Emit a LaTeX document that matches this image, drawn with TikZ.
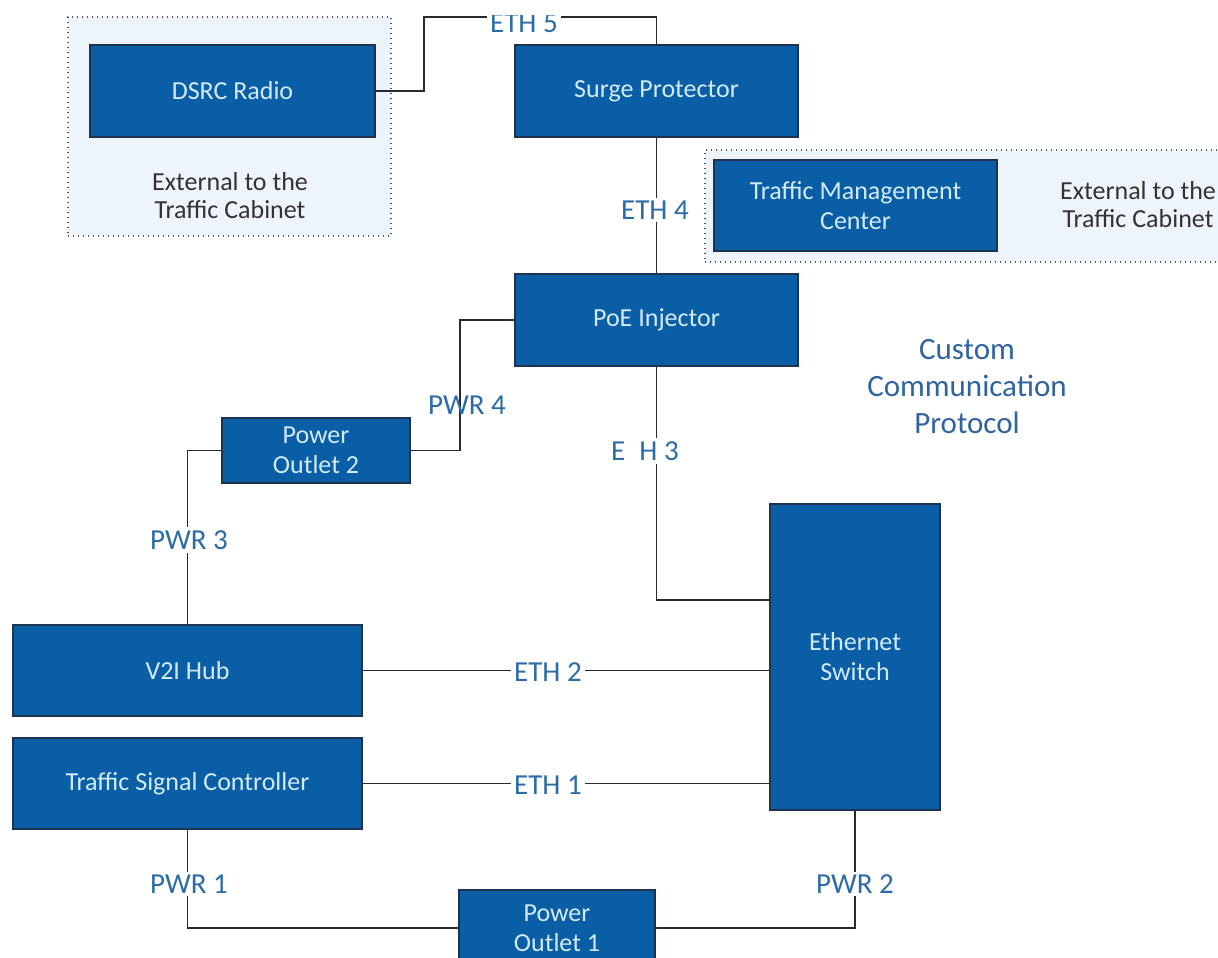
\documentclass[tikz,border=0pt]{standalone}
\usepackage{fontspec}
\setmainfont{Carlito}
\definecolor{boxfill}{HTML}{0A5EA6}
\definecolor{boxline}{HTML}{1F3350}
\definecolor{boxtext}{HTML}{D2EBFB}
\definecolor{lblcol}{HTML}{2C6CA6}
\definecolor{notecol}{HTML}{2F64A0}
\definecolor{exttext}{HTML}{333333}
\definecolor{extfill}{HTML}{EEF4FB}
\definecolor{dotgray}{HTML}{555555}
\definecolor{wirecol}{HTML}{2A2A2A}
\tikzset{
  blk/.style={draw=boxline, line width=0.8pt, fill=boxfill, text=boxtext,
    font=\fontsize{13}{15}\selectfont, align=center, inner sep=0pt},
  ext/.style={draw=dotgray, dash pattern=on 0.7pt off 1.8pt, fill=extfill, line width=0.7pt, inner sep=0pt},
  exttxt/.style={text=exttext, font=\fontsize{13}{14}\selectfont, align=center},
  wire/.style={draw=wirecol, line width=0.7pt},
  lbl/.style={text=lblcol, font=\fontsize{14.5}{17}\selectfont, inner sep=1.5pt},
  lblw/.style={lbl, fill=white},
  notetxt/.style={text=notecol, font=\fontsize{15.5}{18.5}\selectfont, align=center}
}
\begin{document}
\begin{tikzpicture}[x=0.5pt,y=-0.5pt]
\useasboundingbox (0,0) rectangle (1218,957);
\clip (0,0) rectangle (1218,957);
\fill[white] (0,0) rectangle (1218,957);

% external regions
\node[ext, minimum width=161.5pt, minimum height=109.5pt] (ext1) at (229.5,126.5) {};
\node[ext, minimum width=262.5pt, minimum height=56pt] (ext2) at (967.5,206) {};
\node[exttxt] (ext1txt) at (230,196) {External to the\\Traffic Cabinet};
\node[exttxt] (ext2txt) at (1138,205) {External to the\\Traffic Cabinet};

% blocks
\node[blk, minimum width=142.5pt, minimum height=46pt] (dsrc) at (232.5,91) {DSRC Radio};
\node[blk, minimum width=141.5pt, minimum height=46pt] (surge) at (656.5,91) {Surge Protector};
\node[blk, minimum width=141.5pt, minimum height=45.5pt] (tmc) at (855.5,205.5) {Traffic Management\\Center};
\node[blk, minimum width=141.5pt, minimum height=46pt] (poe) at (656.5,320) {PoE Injector};
\node[blk, minimum width=94pt, minimum height=32.5pt] (out2) at (316,450.5) {Power\\Outlet 2};
\node[blk, minimum width=174.5pt, minimum height=45.5pt] (v2i) at (187.5,670.5) {V2I Hub};
\node[blk, minimum width=174.5pt, minimum height=45.5pt] (tsc) at (187.5,783.5) {Traffic Signal Controller};
\node[blk, minimum width=85pt, minimum height=153pt] (sw) at (855,657) {Ethernet\\Switch};
\node[blk, minimum width=98pt, minimum height=38pt] (out1) at (557,928) {Power\\Outlet 1};

% bend points
\coordinate (e5bend) at (424,17);
\coordinate (p4bend) at (460,320);

% connectors
\draw[wire] (dsrc.east) -| (e5bend) -| (surge.north);
\draw[wire] (surge.south) -- (poe.north);
\draw[wire] (out2.east) -| (p4bend) -- (poe.west);
\draw[wire] (out2.west) -| (v2i.north);
\draw[wire] (poe.south) |- ([yshift=28.5pt]sw.west);
\draw[wire] (v2i.east) -- (v2i.east -| sw.west);
\draw[wire] (tsc.east) -- (tsc.east -| sw.west);
\draw[wire] (tsc.south) |- (out1.west);
\draw[wire] (sw.south) |- (out1.east);

% labels
\begin{scope}
\clip (470,15.5) rectangle (580,45);
\node[lblw] (l5) at (524,23.5) {ETH 5};
\end{scope}
\node[lblw] (l4) at (655,210) {ETH 4};
\node[lblw] (l3) at (645,451) {E\phantom{T}H 3};
\node[lbl] (lp4) at (467,405) {PWR 4};
\node[lblw] (lp3) at (189,540) {PWR 3};
\node[lblw] (l2) at (548,672) {ETH 2};
\node[lblw] (l1) at (548,785) {ETH 1};
\node[lblw] (lp1) at (189,884) {PWR 1};
\node[lblw] (lp2) at (855,884) {PWR 2};

\node[notetxt] (ccp) at (967,387) {Custom\\Communication\\Protocol};
\end{tikzpicture}
\end{document}
